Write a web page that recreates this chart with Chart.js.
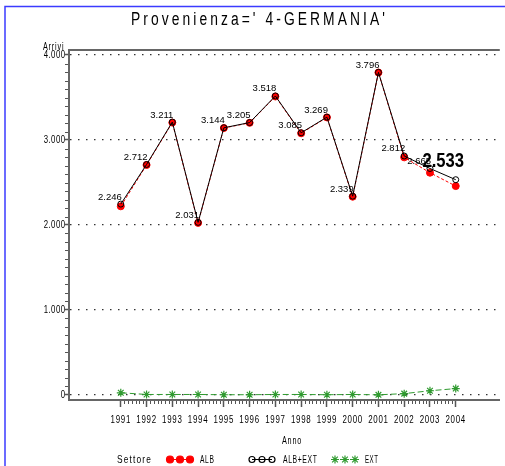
<!DOCTYPE html>
<html>
<head>
<meta charset="utf-8">
<script src="https://cdn.jsdelivr.net/npm/chart.js@4.4.1/dist/chart.umd.min.js"></script>
<style>
  html, body { margin: 0; padding: 0; background: #fff; }
  canvas { display: block; }
</style>
</head>
<body>
<canvas id="chart" width="505" height="466"></canvas>
<script>
// data
const years  = [1991, 1992, 1993, 1994, 1995, 1996, 1997, 1998, 1999, 2000, 2001, 2002, 2003, 2004]
const alb    = [2220, 2706, 3205, 2025, 3141, 3202, 3512, 3079, 3266, 2333, 3794, 2796, 2615, 2458]
const albExt = [2246, 2712, 3211, 2031, 3144, 3205, 3518, 3085, 3269, 2339, 3796, 2812, 2665, 2533]
const ext    = [26, 6, 6, 6, 3, 3, 6, 6, 3, 6, 2, 16, 50, 75]
const yTicks = [0, 1000, 2000, 3000, 4000]

const titleText = "Provenienza=' 4-GERMANIA'"
const SANS = "'Liberation Sans', Arial, sans-serif"

const RED = "#ff0000"
const GREEN = "#2f9a2f"

function fmt(v) {
    if (v === 0) return "0"
    const s = String(Math.round(v))
    return s.length > 3 ? s.slice(0, -3) + "." + s.slice(-3) : s
}

function pts(arr) {
    return years.map((yr, i) => ({ x: yr, y: arr[i] }))
}

// squeezed text, to mimic the narrow SAS font
function narrowText(ctx, text, x, y, o) {
    ctx.save()
    ctx.font = (o.bold ? "bold " : "") + o.size + "px " + SANS
    ctx.letterSpacing = (o.spacing || 0) + "px"
    let sx = o.sx
    if (!sx) sx = o.width / ctx.measureText(text).width
    ctx.translate(x, y)
    ctx.scale(sx, 1)
    ctx.textAlign = o.align || "left"
    ctx.textBaseline = o.baseline || "alphabetic"
    ctx.fillStyle = o.color || "#000"
    ctx.fillText(text, 0, 0)
    ctx.restore()
}

const decor = {
    id: "decor",
    beforeDraw(chart) {
        const ctx = chart.ctx
        ctx.save()
        ctx.fillStyle = "#fff"
        ctx.fillRect(0, 0, chart.width, chart.height)
        ctx.strokeStyle = "#3b3bff"
        ctx.lineWidth = 1.5
        ctx.beginPath()
        ctx.moveTo(5, chart.height)
        ctx.lineTo(5, 6.5)
        ctx.lineTo(chart.width, 6.5)
        ctx.stroke()
        ctx.restore()
    },
    afterDraw(chart) {
        const ctx = chart.ctx
        const a = chart.chartArea
        const xs = chart.scales.x
        const ys = chart.scales.y
        ctx.save()

        // top frame
        ctx.strokeStyle = "#666"
        ctx.lineWidth = 2
        ctx.beginPath()
        ctx.moveTo(a.left - 1, a.top)
        ctx.lineTo(a.right, a.top)
        ctx.stroke()

        // minor ticks
        ctx.strokeStyle = "#555"
        ctx.lineWidth = 1
        ctx.beginPath()
        for (let i = 0; i < years.length - 1; i++) {
            for (let k = 1; k < 7; k++) {
                const x = Math.round(xs.getPixelForValue(years[i] + k / 7)) + 0.5
                ctx.moveTo(x, a.bottom + 1)
                ctx.lineTo(x, a.bottom + 4)
            }
        }
        for (let v = 100; v < 4000; v += 100) {
            if (v % 1000 === 0) continue
            const y = Math.round(ys.getPixelForValue(v)) + 0.5
            ctx.moveTo(a.left - 1, y)
            ctx.lineTo(a.left - 4, y)
        }
        ctx.stroke()
        ctx.restore()

        // tick labels
        xs.ticks.forEach(t => {
            narrowText(ctx, String(t.value), xs.getPixelForValue(t.value), 423, { size: 11, sx: 0.72, spacing: 1, align: "center" })
        })
        ys.ticks.forEach(t => {
            narrowText(ctx, fmt(t.value), 65.5, ys.getPixelForValue(t.value), { size: 10, sx: 0.78, spacing: 0.6, align: "right", baseline: "middle" })
        })

        // title and axis names
        narrowText(ctx, titleText, 131, 25, { size: 18, width: 257, spacing: 4 })
        narrowText(ctx, "Arrivi", 64.5, 49.5, { size: 10, width: 21.6, spacing: 1.2, align: "right" })
        narrowText(ctx, "Anno", 292, 444, { size: 11, width: 20, spacing: 1.2, align: "center" })

        // legend
        narrowText(ctx, "Settore", 117, 463, { size: 11, width: 35, spacing: 1.5 })
        narrowText(ctx, "ALB", 200, 463, { size: 11, width: 14.5, spacing: 1 })
        narrowText(ctx, "ALB+EXT", 283, 463, { size: 11, width: 34.5, spacing: 1 })
        narrowText(ctx, "EXT", 365, 463, { size: 11, width: 13.5, spacing: 1 })

        const ly = 459.5
        const items = [
            { xs: [170, 180, 190], color: RED, fill: RED, style: "circle", r: 3.5, dash: [] },
            { xs: [252, 262, 272], color: "#000", fill: "rgba(0,0,0,0)", style: "circle", r: 3, dash: [] },
            { xs: [335, 345, 355], color: GREEN, fill: GREEN, style: "star", r: 4, dash: [3, 2] }
        ]
        ctx.save()
        items.forEach(it => {
            ctx.strokeStyle = it.color
            ctx.lineWidth = 1
            ctx.setLineDash(it.dash)
            ctx.beginPath()
            ctx.moveTo(it.xs[0], ly)
            ctx.lineTo(it.xs[2], ly)
            ctx.stroke()
            ctx.setLineDash([])
            it.xs.forEach(x => {
                ctx.fillStyle = it.fill
                ctx.strokeStyle = it.color
                ctx.lineWidth = 1.2
                Chart.helpers.drawPoint(ctx, { pointStyle: it.style, radius: it.r, borderWidth: 1.2, rotation: 0 }, x, ly)
            })
        })
        ctx.restore()
    },
    afterDatasetsDraw(chart) {
        const ctx = chart.ctx
        const meta = chart.getDatasetMeta(1)
        const last = albExt.length - 1
        ctx.save()
        ctx.fillStyle = "#000"
        ctx.textBaseline = "alphabetic"
        ctx.font = "9.5px " + SANS
        ctx.textAlign = "right"
        meta.data.forEach((p, i) => {
            if (i === last) return
            ctx.fillText(fmt(albExt[i]), p.x + 1, p.y - 4.5)
        })
        ctx.restore()
        const p = meta.data[last]
        narrowText(ctx, fmt(albExt[last]), p.x - 33.3, p.y - 13, { size: 20, bold: true, width: 41.6 })
    }
}

new Chart(document.getElementById("chart"), {
    type: "line",
    data: {
        datasets: [
            {
                label: "ALB",
                data: pts(alb),
                borderColor: RED,
                borderWidth: 1,
                borderDash: [3, 2],
                pointStyle: "circle",
                pointRadius: 3.5,
                pointBackgroundColor: RED,
                pointBorderColor: RED,
                pointBorderWidth: 1,
                order: 1
            },
            {
                label: "ALB+EXT",
                data: pts(albExt),
                borderColor: "#000",
                borderWidth: 1,
                pointStyle: "circle",
                pointRadius: 3,
                pointBackgroundColor: "rgba(0,0,0,0)",
                pointBorderColor: "#000",
                pointBorderWidth: 1,
                order: 0
            },
            {
                label: "EXT",
                data: pts(ext),
                borderColor: GREEN,
                borderWidth: 1,
                borderDash: [6, 3],
                pointStyle: "star",
                pointRadius: 4,
                pointBackgroundColor: GREEN,
                pointBorderColor: GREEN,
                pointBorderWidth: 1.2,
                order: 2
            }
        ]
    },
    options: {
        responsive: false,
        animation: false,
        devicePixelRatio: 1,
        layout: { padding: { top: 50, left: 0, right: 0, bottom: 0 } },
        plugins: {
            legend: { display: false },
            tooltip: { enabled: false },
            title: { display: false }
        },
        scales: {
            x: {
                type: "linear",
                min: 1988.99,
                max: 2005.71,
                afterBuildTicks: s => { s.ticks = years.map(v => ({ value: v })) },
                afterFit: s => { s.height = 66 },
                grid: { drawOnChartArea: false, drawTicks: true, tickLength: 7, tickColor: "#555", tickWidth: 1.5 },
                border: { display: true, color: "#666", width: 2 },
                ticks: { display: false }
            },
            y: {
                type: "linear",
                min: -59,
                max: 4059,
                afterBuildTicks: s => { s.ticks = yTicks.map(v => ({ value: v })) },
                afterFit: s => { s.width = 69 },
                grid: {
                    color: "#333",
                    lineWidth: 1.2,
                    tickLength: 4,
                    tickColor: "#555",
                    tickWidth: 1.5,
                    tickBorderDash: [1, 0]
                },
                border: { display: true, color: "#666", width: 2, dash: [1.5, 6.5] },
                ticks: { display: false }
            }
        }
    },
    plugins: [decor]
})
</script>
</body>
</html>
